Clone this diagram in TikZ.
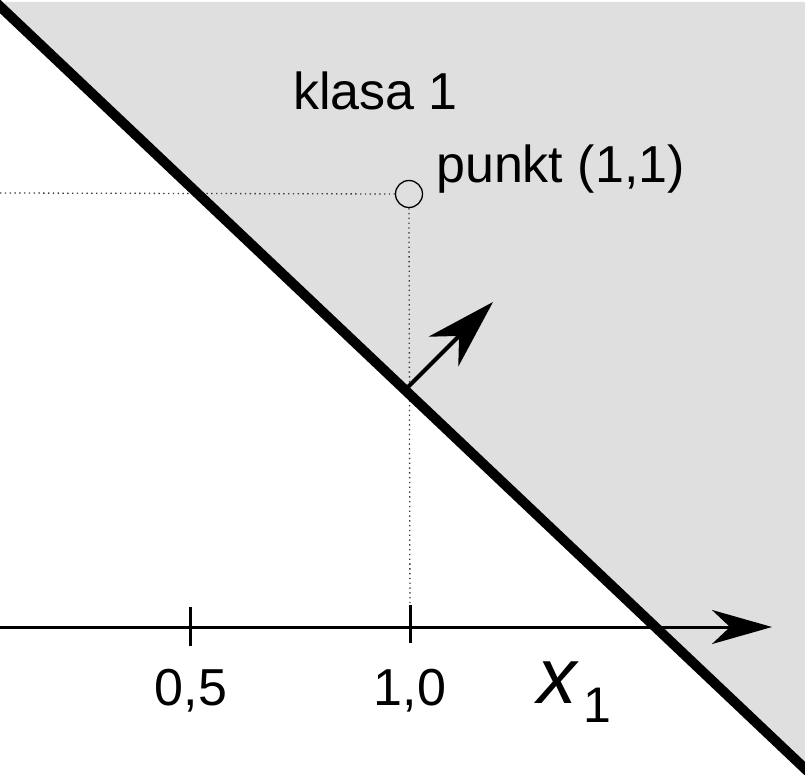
\documentclass[tikz,border=0pt]{standalone}
\usepackage{fontspec}
\setmainfont{Liberation Sans}
\usetikzlibrary{arrows.meta}
\definecolor{regiongray}{RGB}{223,223,223}
\definecolor{dotgray}{RGB}{60,60,60}
\begin{document}
\begin{tikzpicture}[x=1pt,y=-1pt,
  boundary/.style={line width=10pt,black},
  axisline/.style={line width=3pt,black},
  tickline/.style={line width=3pt,black},
  guide/.style={line width=1.3pt,dotgray,dash pattern=on 1.4pt off 3.4pt},
  vec/.style={line width=4pt,black,-{Stealth[length=70pt,width=42pt,inset=22pt]}},
  lbl/.style={inner sep=0pt,font=\fontsize{52}{60}\selectfont},
]
\useasboundingbox (0,0) rectangle (805,775);
% coordinates
\coordinate (lA) at (-10,-3.07);
\coordinate (lB) at (815,778.2);
\coordinate (g1) at (-4.6,2);
\coordinate (g2) at (805,2);
\coordinate (g3) at (805,768.7);
\coordinate (ax0) at (0,627);
\coordinate (ax1) at (772,627);
\coordinate (t1a) at (190,607);
\coordinate (t1b) at (190,646);
\coordinate (t2a) at (410,605);
\coordinate (t2b) at (410,643);
\coordinate (h0) at (0,193);
\coordinate (v1) at (410,627);
\coordinate (vs) at (405,390);
\coordinate (ve) at (493,302);
% region
\fill[regiongray] (g1) -- (g2) -- (g3) -- cycle;
% point
\node[draw,circle,line width=1.3pt,minimum size=27pt,inner sep=0pt] (pt) at (409,194) {};
% guides
\draw[guide] (h0) -- (pt.west);
\draw[guide] (pt.south) -- (v1);
% axis
\draw[axisline,-{Stealth[length=60pt,width=34pt,inset=18pt]}] (ax0) -- (ax1);
\draw[tickline] (t1a) -- (t1b);
\draw[tickline] (t2a) -- (t2b);
% boundary
\draw[boundary] (lA) -- (lB);
% normal vector
\draw[vec] (vs) -- (ve);
% labels
\node[lbl,anchor=base west] (klasa) at (293,110) {klasa 1};
\node[lbl,anchor=base west] (punkt) at (436,183) {punkt (1,1)};
\node[lbl,anchor=base] (l05) at (191,705) {0,5};
\node[lbl,anchor=base] (l10) at (410,705) {1,0};
\node[inner sep=0pt,anchor=base west,font=\fontsize{79}{90}\selectfont\itshape] (xl) at (537,703) {x};
\node[inner sep=0pt,anchor=base west,font=\fontsize{50}{60}\selectfont] (xs) at (583,722) {1};
\end{tikzpicture}
\end{document}
